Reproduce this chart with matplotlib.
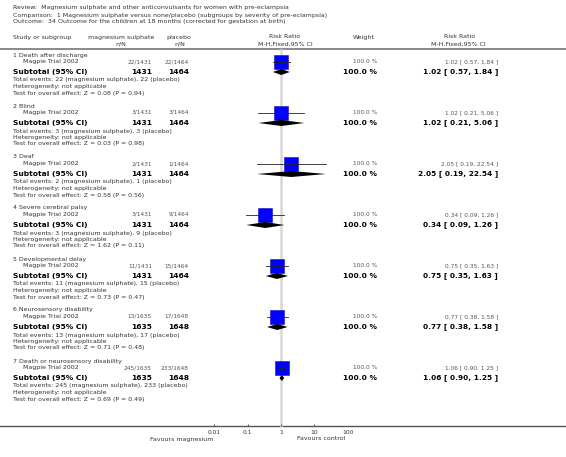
import matplotlib.pyplot as plt
import numpy as np

# forest plot data (Magpie Trial 2002, 7 outcomes)
outcomes = ["1 Death after discharge", "2 Blind", "3 Deaf", "4 Severe cerebral palsy",
            "5 Developmental delay", "6 Neurosensory disability",
            "7 Death or neurosensory disability"]
study = "Magpie Trial 2002"
mag_events = [22, 3, 2, 3, 11, 13, 245]
mag_total = [1431, 1431, 1431, 1431, 1431, 1635, 1635]
plc_events = [22, 3, 1, 9, 15, 17, 233]
plc_total = [1464, 1464, 1464, 1464, 1464, 1648, 1648]
rr = [1.02, 1.02, 2.05, 0.34, 0.75, 0.77, 1.06]
rr_lo = [0.57, 0.21, 0.19, 0.09, 0.35, 0.38, 0.90]
rr_hi = [1.84, 5.06, 22.54, 1.26, 1.63, 1.58, 1.25]
z_vals = [0.08, 0.03, 0.58, 1.62, 0.73, 0.71, 0.69]
p_vals = [0.94, 0.98, 0.56, 0.11, 0.47, 0.48, 0.49]
weights = [100.0] * 7
ticks = [0.01, 0.1, 1, 10, 100]
tick_labels = ["0.01", "0.1", "1", "10", "100"]

W, H = 566, 457
TXT = '#333333'
SMALL = '#555555'

fig = plt.figure(figsize=(W / 100, H / 100), dpi=100)
bg = fig.add_axes([0, 0, 1, 1])
bg.set_xlim(0, W)
bg.set_ylim(H, 0)
bg.axis('off')

# forest panel: log scale, 0.01 .. 100
x0, x1 = 214.5, 347.5
ax = fig.add_axes([x0 / W, 0, (x1 - x0) / W, 1])
ax.set_xscale('log')
ax.set_xlim(0.01, 100)
ax.set_ylim(H, 0)
ax.axis('off')
ax.patch.set_alpha(0)

def t(x, y, s, size=4.5, color=TXT, **kw):
  bg.text(x, y, s, fontsize=size, color=color, va='center', **kw)

# title block
t(13, 8, "Review:  Magnesium sulphate and other anticonvulsants for women with pre-eclampsia")
t(13, 15, "Comparison:  1 Magnesium sulphate versus none/placebo (subgroups by severity of pre-eclampsia)")
t(13, 22, "Outcome:  34 Outcome for the children at 18 months (corrected for gestation at birth)")

# column headers
t(13, 37, "Study or subgroup")
t(121, 37, "magnesium sulphate", ha='center')
t(121, 44, "n/N", ha='center')
t(179, 37, "placebo", ha='center')
t(180, 44, "n/N", ha='center')
t(285, 37, "Risk Ratio", ha='center')
t(285, 44, "M-H,Fixed,95% CI", ha='center')
t(364, 37, "Weight", ha='center')
t(460, 37, "Risk Ratio", ha='center')
t(458, 44, "M-H,Fixed,95% CI", ha='center')

bg.plot([0, W], [48.5, 48.5], color='#777777', lw=1.2)
bg.plot([0, W], [426, 426], color='#555555', lw=1.0)

# line of no effect
ax.plot([1, 1], [50, 426], color='#d8d8d8', lw=1.8, zorder=0)

for i, name in enumerate(outcomes):
  y0 = 55 + 51 * i
  ys, yt = y0 + 6.5, y0 + 17
  t(13, y0, name)
  t(23, ys, study)
  t(152, ys, "%d/%d" % (mag_events[i], mag_total[i]), size=4.2, color=SMALL, ha='right')
  t(189, ys, "%d/%d" % (plc_events[i], plc_total[i]), size=4.2, color=SMALL, ha='right')
  t(377, ys, "%.1f %%" % weights[i], size=4.2, color=SMALL, ha='right')
  t(498, ys, "%.2f [ %.2f, %.2f ]" % (rr[i], rr_lo[i], rr_hi[i]), size=4.2,
    color=SMALL, ha='right')

  t(13, yt, "Subtotal (95% CI)", size=5.4, color='black', fontweight='bold')
  t(152, yt, str(mag_total[i]), size=5.4, color='black', fontweight='bold', ha='right')
  t(189, yt, str(plc_total[i]), size=5.4, color='black', fontweight='bold', ha='right')
  t(377, yt, "%.1f %%" % weights[i], size=5.4, color='black', fontweight='bold', ha='right')
  t(498, yt, "%.2f [ %.2f, %.2f ]" % (rr[i], rr_lo[i], rr_hi[i]), size=5.3,
    color='black', fontweight='bold', ha='right')

  t(13, y0 + 25, "Total events: %d (magnesium sulphate), %d (placebo)"
    % (mag_events[i], plc_events[i]))
  t(13, y0 + 31.5, "Heterogeneity: not applicable")
  t(13, y0 + 38, "Test for overall effect: Z = %.2f (P = %.2f)" % (z_vals[i], p_vals[i]))

  # study square + CI
  ax.plot(rr[i], ys, marker='s', ms=9.4, color='#0000ff', mec='#1010c0', mew=0.4, zorder=2)
  ax.plot([rr_lo[i], rr_hi[i]], [ys, ys], color='#222222', lw=0.6, zorder=3)
  ax.plot([rr[i], rr[i]], [ys - 1.5, ys + 1.5], color='#222222', lw=0.5, zorder=3)
  # pooled diamond
  ax.fill([rr_lo[i], rr[i], rr_hi[i], rr[i]], [yt, yt - 3, yt, yt + 3],
          color='black', lw=0, zorder=3)

# axis ticks
ax.vlines(ticks, 423.5, 426, color='#444444', lw=0.6)
for tk, lab in zip(ticks, tick_labels):
  ax.text(tk, 432, lab, fontsize=4.3, color=TXT, ha='center', va='center')

t(213, 439, "Favours magnesium", ha='right')
t(297, 439, "Favours control", ha='left')

fig.savefig("out.png", dpi=100)
